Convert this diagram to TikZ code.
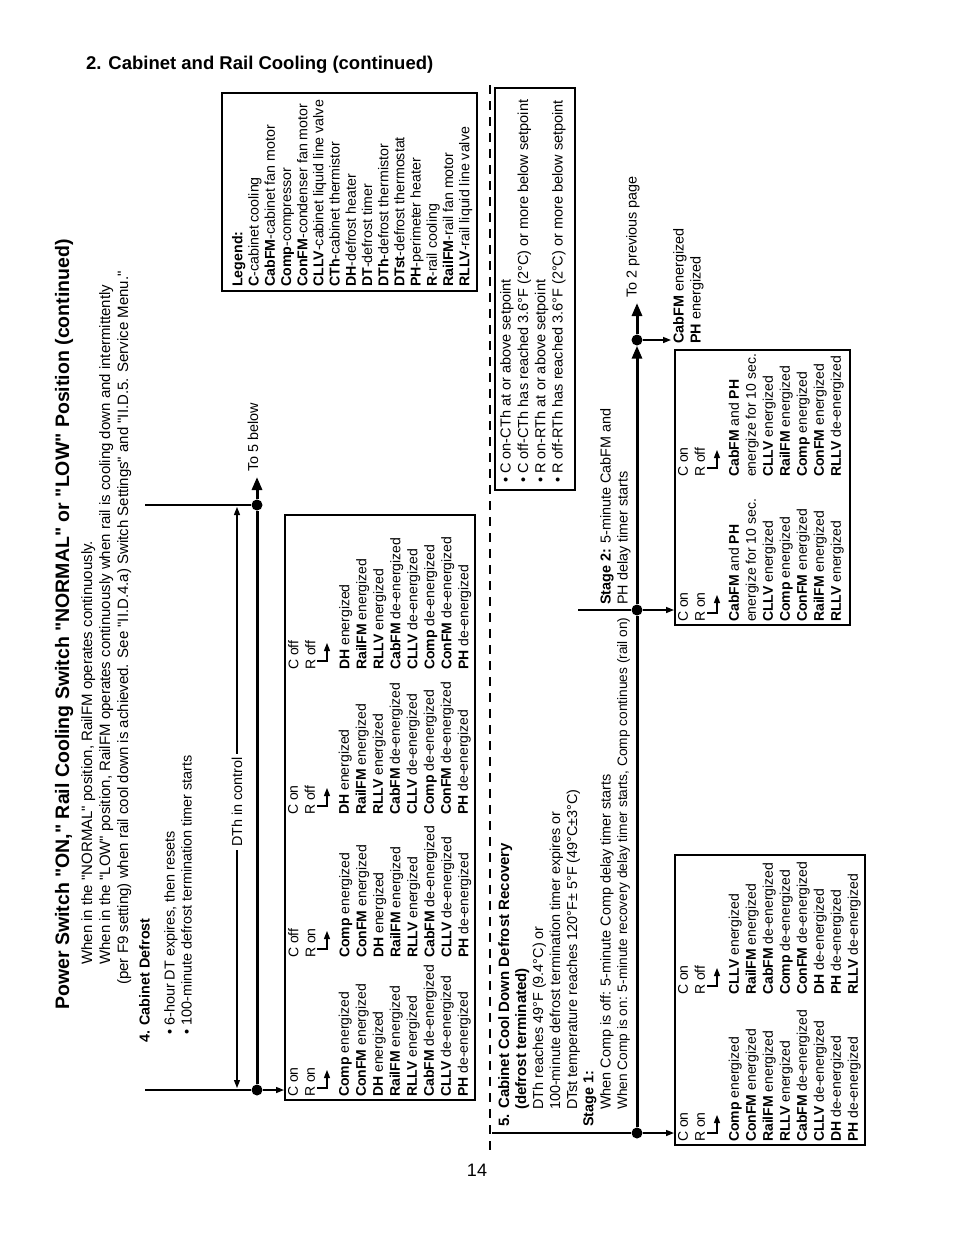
\documentclass[tikz,border=0pt]{standalone}
\usepackage{fontspec}
\setmainfont{Liberation Sans}
\usetikzlibrary{arrows.meta}
\newcommand{\dq}{\textquotedbl}
\newcommand{\ener}[1]{\textbf{#1} energized}
\newcommand{\deener}[1]{\textbf{#1} de-energized}
\newcommand{\txtfont}{\fontsize{14.4}{17}\selectfont}
\newcommand{\boxfont}{\fontsize{14}{17}\selectfont}
\newcommand{\legfont}{\fontsize{14.2}{16.2}\selectfont}
\newcommand{\stepcue}[1]{\draw[cue, smalltip] (#1.north west) ++(29,-9) -- ++(10,0) -- ++(0,-18);}

\begin{document}
\begin{tikzpicture}[x=1pt, y=-1pt, font=\txtfont,
    rtext/.style={rotate=90, anchor=north west, inner sep=0pt, align=left},
    state/.style={rtext, font=\boxfont},
    timeline/.style={line width=3pt},
    link/.style={line width=1.4pt},
    cue/.style={line width=1.2pt},
    statebox/.style={draw, line width=1.5pt},
    dot/.style={circle, fill, inner sep=0pt, minimum size=11pt},
    bigtip/.style={-{Triangle[length=13pt, width=10pt]}},
    smalltip/.style={-{Triangle[length=8pt, width=6pt]}}]
  \useasboundingbox (0,0) rectangle (954,1235);

  % heading and title
  \node[anchor=base west, inner sep=0pt, font=\fontsize{18.5}{22}\selectfont\bfseries] (head) at (86,69) {2. Cabinet and Rail Cooling (continued)};
  \node[rotate=90, anchor=base west, inner sep=0pt, font=\fontsize{19.5}{23}\selectfont\bfseries] (title) at (69,1010) {Power Switch \dq ON,\dq{} Rail Cooling Switch \dq NORMAL\dq{} or \dq LOW\dq{} Position (continued)};
  \node[rtext, font=\fontsize{15}{18}\selectfont] (intro1) at (81,965) {When in the \dq NORMAL\dq{} position, RailFM operates continuously.};
  \node[rtext, font=\fontsize{15}{18}\selectfont] (intro2) at (99,965) {When in the \dq LOW\dq{} position, RailFM operates continuously when rail is cooling down and intermittently};
  \node[rtext, font=\fontsize{15}{18}\selectfont] (intro3) at (117,985) {(per F9 setting) when rail cool down is achieved. See \dq II.D.4.a) Switch Settings\dq{} and \dq II.D.5. Service Menu.\dq};

  % legend
  \draw[statebox] (222,93) rectangle (477,291);
  \node[rtext, font=\legfont] (legend) at (232,287) {\textbf{Legend:}\\\textbf{C}-cabinet cooling\\\textbf{CabFM}-cabinet fan motor\\\textbf{Comp}-compressor\\\textbf{ConFM}-condenser fan motor\\\textbf{CLLV}-cabinet liquid line valve\\\textbf{CTh}-cabinet thermistor\\\textbf{DH}-defrost heater\\\textbf{DT}-defrost timer\\\textbf{DTh}-defrost thermistor\\\textbf{DTst}-defrost thermostat\\\textbf{PH}-perimeter heater\\\textbf{R}-rail cooling\\\textbf{RailFM}-rail fan motor\\\textbf{RLLV}-rail liquid line valve};

  % 4. Cabinet Defrost
  \node[rtext] (s4) at (139,1043) {\textbf{4. Cabinet Defrost}};
  \node[rtext] (s4a) at (164,1035) {• 6-hour DT expires, then resets\\• 100-minute defrost termination timer starts};
  \coordinate (h4a) at (145,1090);
  \coordinate (h4b) at (145,505);
  \coordinate (t4e) at (257,477);
  \node[dot] (p4a) at (257,1090) {};
  \node[dot] (p4b) at (257,505) {};
  \draw[link] (h4a) -- (p4a);
  \draw[link] (h4b) -- (p4b);
  \draw[timeline] (p4a) -- (p4b);
  \draw[timeline, bigtip] (p4b) -- (t4e);
  \node[rtext, anchor=west] (to5) at (253,472) {To 5 below};
  \node[rtext, anchor=center, inner sep=3pt] (dth) at (237,802) {DTh in control};
  \draw[cue, smalltip] (dth.east) -- (237,507);
  \draw[cue, smalltip] (dth.west) -- (237,1088);

  \draw[statebox] (285,515) rectangle (475,1100);
  \draw[link, smalltip] (p4a) -- (284,1090);
  \node[state] (d1) at (288,1097) {C on\\R on\\\mbox{}\\\ener{Comp}\\\ener{ConFM}\\\ener{DH}\\\ener{RailFM}\\\ener{RLLV}\\\deener{CabFM}\\\deener{CLLV}\\\deener{PH}};
  \node[state] (d2) at (288,958) {C off\\R on\\\mbox{}\\\ener{Comp}\\\ener{ConFM}\\\ener{DH}\\\ener{RailFM}\\\ener{RLLV}\\\deener{CabFM}\\\deener{CLLV}\\\deener{PH}};
  \node[state] (d3) at (288,815) {C on\\R off\\\mbox{}\\\ener{DH}\\\ener{RailFM}\\\ener{RLLV}\\\deener{CabFM}\\\deener{CLLV}\\\deener{Comp}\\\deener{ConFM}\\\deener{PH}};
  \node[state] (d4) at (288,670) {C off\\R off\\\mbox{}\\\ener{DH}\\\ener{RailFM}\\\ener{RLLV}\\\deener{CabFM}\\\deener{CLLV}\\\deener{Comp}\\\deener{ConFM}\\\deener{PH}};
  \foreach \c in {d1,d2,d3,d4} {\stepcue{\c}}

  % divider
  \coordinate (divtop) at (490,85);
  \coordinate (divbot) at (490,1152);
  \draw[line width=1.2pt, dash pattern=on 9pt off 7pt] (divtop) -- (divbot);

  % setpoint conditions
  \draw[statebox] (495,88) rectangle (575,490);
  \node[rtext, font=\fontsize{14.5}{17.3}\selectfont] (cond) at (500,483) {• C on-CTh at or above setpoint\\• C off-CTh has reached 3.6°F (2°C) or more below setpoint\\• R on-RTh at or above setpoint\\• R off-RTh has reached 3.6°F (2°C) or more below setpoint};

  % 5. Cabinet Cool Down Defrost Recovery
  \node[rtext, font=\fontsize{15}{17}\selectfont] (s5) at (498,1127) {\textbf{5. Cabinet Cool Down Defrost Recovery}};
  \node[rtext] (s5a) at (515,1110) {{\fontsize{15}{17}\selectfont\textbf{(defrost terminated)}}\\DTh reaches 49°F (9.4°C) or\\100-minute defrost termination timer expires or\\DTst temperature reaches 120°F± 5°F (49°C±3°C)};
  \node[rtext] (st1) at (583,1127) {\textbf{Stage 1:}};
  \node[rtext] (st1a) at (600,1110) {When Comp is off: 5-minute Comp delay timer starts};
  \node[rtext, font=\fontsize{13.7}{17}\selectfont] (st1b) at (617,1110) {When Comp is on: 5-minute recovery delay timer starts, Comp continues (rail on)};
  \node[rtext] (st2) at (600,605) {\textbf{Stage 2:} 5-minute CabFM and\\PH delay timer starts};
  \coordinate (h5a) at (492,1133);
  \coordinate (h5b) at (578,610);
  \coordinate (t5e) at (637,303);
  \node[dot] (p5a) at (637,1133) {};
  \node[dot] (p5b) at (637,610) {};
  \node[dot] (p5c) at (637,340) {};
  \draw[link] (h5a) -- (p5a);
  \draw[link] (h5b) -- (p5b);
  \draw[timeline] (p5a) -- (p5b);
  \draw[timeline, bigtip] (p5b) -- (p5c.south);
  \draw[timeline, bigtip] (p5c) -- (t5e);
  \node[rtext, anchor=west] (to2) at (633,298) {To 2 previous page};
  \draw[link, smalltip] (p5c) -- (671,340);
  \node[rtext] (cab) at (673,344) {\ener{CabFM}\\\ener{PH}};

  \draw[statebox] (675,855) rectangle (865,1145);
  \draw[link, smalltip] (p5a) -- (674,1133);
  \node[state] (e1) at (678,1142) {C on\\R on\\\mbox{}\\\ener{Comp}\\\ener{ConFM}\\\ener{RailFM}\\\ener{RLLV}\\\deener{CabFM}\\\deener{CLLV}\\\deener{DH}\\\deener{PH}};
  \node[state] (e2) at (678,995) {C on\\R off\\\mbox{}\\\ener{CLLV}\\\ener{RailFM}\\\deener{CabFM}\\\deener{Comp}\\\deener{ConFM}\\\deener{DH}\\\deener{PH}\\\deener{RLLV}};

  \draw[statebox] (675,350) rectangle (850,625);
  \draw[link, smalltip] (p5b) -- (674,610);
  \node[state] (f1) at (678,622) {C on\\R on\\\mbox{}\\\textbf{CabFM} and \textbf{PH}\\energize for 10 sec.\\\ener{CLLV}\\\ener{Comp}\\\ener{ConFM}\\\ener{RailFM}\\\ener{RLLV}};
  \node[state] (f2) at (678,477) {C on\\R off\\\mbox{}\\\textbf{CabFM} and \textbf{PH}\\energize for 10 sec.\\\ener{CLLV}\\\ener{RailFM}\\\ener{Comp}\\\ener{ConFM}\\\deener{RLLV}};
  \foreach \c in {e1,e2,f1,f2} {\stepcue{\c}}

  % page number
  \node[font=\fontsize{18}{20}\selectfont] (page) at (477,1170) {14};
\end{tikzpicture}
\end{document}
